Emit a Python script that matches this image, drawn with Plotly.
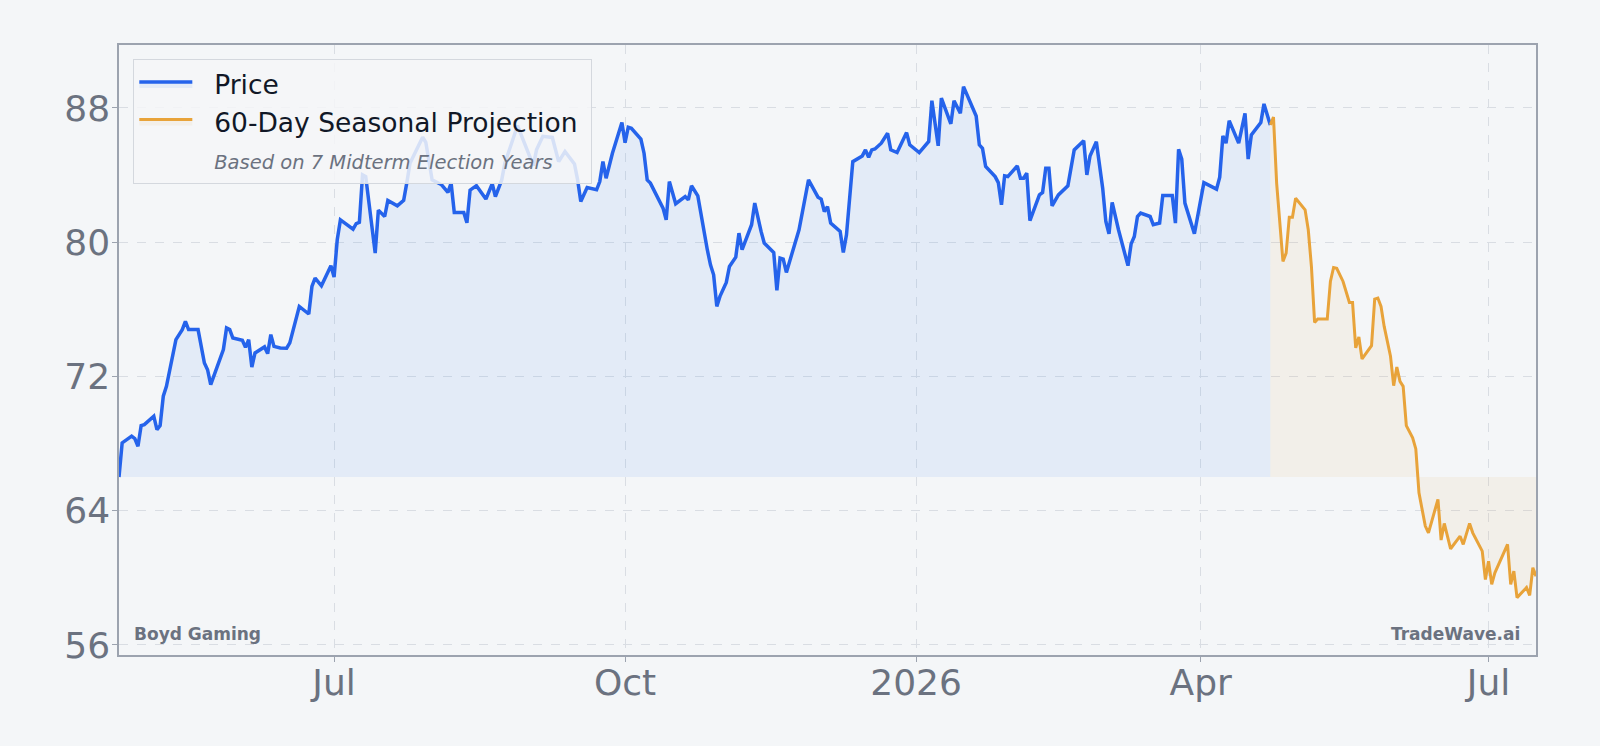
import pandas as pd
import plotly.graph_objects as go

START = "2025-04-24"

# Historical price: (days since START, close)
price_day = [0, 1, 4, 5, 6, 7, 8, 11, 12, 13, 14, 15, 18, 20, 21, 22, 25, 27, 28, 29,
             33, 34, 35, 36, 39, 40, 41, 42, 43, 46, 47, 48, 49, 51, 53, 54, 57, 60, 61, 62,
             64, 67, 68, 69, 70, 74, 75, 76, 77, 78, 81, 82, 84, 85, 88, 90, 91, 92, 96, 97,
             99, 102, 104, 105, 106, 109, 110, 111, 113, 116, 118, 119, 121, 122, 126, 128, 131, 132, 134, 137,
             139, 141, 144, 145, 146, 148, 151, 152, 153, 154, 156, 159, 160, 161, 162, 165, 166, 167, 168, 172,
             173, 174, 176, 179, 180, 181, 183, 186, 187, 188, 189, 190, 192, 193, 195, 196, 197, 200, 201, 203,
             204, 207, 208, 209, 210, 211, 215, 218, 221, 222, 223, 224, 225, 228, 229, 230, 232, 235, 236, 237,
             238, 239, 241, 243, 244, 246, 249, 250, 253, 256, 257, 259, 260, 263, 264, 266, 267, 271, 272, 273,
             274, 277, 278, 279, 280, 281, 284, 285, 286, 287, 288, 291, 292, 293, 294, 295, 297, 300, 302, 305,
             306, 307, 309, 311, 312, 313, 314, 316, 319, 320, 321, 322, 323, 326, 327, 329, 330, 333, 334, 335,
             336, 337, 340, 343, 347, 348, 349, 350, 351, 354, 356, 357, 358, 361, 362, 364]
price = [66.0, 68.04, 68.44, 68.3, 67.84, 69.07, 69.13, 69.63, 68.83, 69.07, 70.82, 71.41, 74.19, 74.79, 75.28, 74.79, 74.79, 72.80, 72.40, 71.51,
         73.60, 74.89, 74.79, 74.29, 74.15, 73.73, 74.19, 72.56, 73.40, 73.76, 73.36, 74.49, 73.79, 73.70, 73.68, 74.00, 76.17, 75.72, 77.36, 77.86,
         77.40, 78.60, 77.92, 80.14, 81.33, 80.78, 81.10, 81.18, 84.01, 83.91, 79.35, 81.91, 81.53, 82.49, 82.17, 82.5, 83.55, 84.7, 86.25, 85.95,
         83.71, 83.42, 82.97, 83.53, 81.77, 81.77, 81.16, 83.10, 83.37, 82.57, 83.48, 82.72, 83.71, 84.71, 86.95, 86.0, 84.56, 85.50, 86.31, 86.24,
         84.8, 85.40, 84.66, 83.71, 82.42, 83.25, 83.12, 83.61, 84.80, 83.81, 85.30, 87.13, 85.93, 86.85, 86.79, 86.14, 85.30, 83.71, 83.52, 82.03,
         81.33, 83.61, 82.29, 82.72, 82.52, 83.36, 82.76, 79.55, 78.65, 78.06, 76.17, 76.77, 77.60, 78.55, 79.11, 80.54, 79.55, 81.04, 82.33, 80.64,
         79.95, 79.39, 77.13, 79.05, 78.99, 78.20, 80.74, 83.71, 82.68, 82.57, 81.83, 82.12, 81.14, 80.64, 79.39, 80.44, 84.80, 85.14, 85.50, 85.06,
         85.50, 85.55, 85.90, 86.49, 85.50, 85.34, 86.53, 85.80, 85.34, 86.0, 88.43, 85.74, 88.58, 87.05, 88.43, 87.68, 89.27, 87.52, 85.80, 85.60,
         84.51, 83.91, 83.55, 82.23, 83.95, 83.91, 84.55, 83.81, 83.81, 84.11, 81.29, 82.82, 82.96, 84.41, 84.41, 82.17, 82.82, 83.36, 85.50, 86.05,
         84.01, 85.14, 85.99, 83.22, 81.23, 80.50, 82.37, 80.74, 78.60, 79.90, 80.34, 81.53, 81.73, 81.53, 81.04, 81.14, 82.78, 82.78, 81.14, 85.54,
         84.95, 82.33, 80.50, 83.55, 83.16, 83.87, 86.33, 85.90, 87.24, 85.90, 87.68, 84.95, 86.39, 87.13, 88.24, 86.99]

# 60-day seasonal projection: (days since START, value)
proj_day = [364, 365, 366, 368, 369, 370, 371, 372, 375, 376, 377, 378, 379, 382, 383, 384, 385, 387, 389, 390,
            391, 392, 393, 396, 397, 398, 399, 400, 402, 403, 404, 405, 406, 407, 409, 410, 411, 413, 414, 417,
            418, 419, 421, 424, 425, 427, 428, 431, 432, 433, 434, 435, 439, 440, 441, 442, 445, 446, 447, 448]
proj = [86.99, 87.45, 83.52, 78.85, 79.35, 81.49, 81.49, 82.62, 81.93, 80.74, 78.55, 75.22, 75.42, 75.42, 77.66, 78.49, 78.44, 77.66, 76.41, 76.41,
        73.70, 74.35, 73.04, 73.83, 76.61, 76.67, 76.17, 74.98, 73.20, 71.45, 72.56, 71.71, 71.41, 69.07, 68.34, 67.68, 65.06, 63.08, 62.68, 64.67,
        62.25, 63.24, 61.73, 62.48, 61.99, 63.24, 62.68, 61.59, 59.90, 60.99, 59.61, 60.30, 61.99, 59.61, 60.40, 58.82, 59.42, 58.95, 60.60, 60.10]

tick_dates = ["2025-07-01", "2025-10-01", "2026-01-01", "2026-04-01", "2026-07-01"]
tick_text = ["Jul", "Oct", "2026", "Apr", "Jul"]
y_ticks = [56, 64, 72, 80, 88]

start = pd.Timestamp(START)
price_dates = start + pd.to_timedelta(price_day, unit="D")
proj_dates = start + pd.to_timedelta(proj_day, unit="D")
base = min(price)

BLUE = "#2563eb"
ORANGE = "#e8a33a"
BG = "#f4f6f8"
GREY = "#6b7280"
FONT = "DejaVu Sans"
GAP = "&nbsp;&nbsp;"

fig = go.Figure()
fig.add_trace(go.Scatter(x=price_dates, y=[base] * len(price_dates), mode="lines",
                         line=dict(width=0, color="rgba(0,0,0,0)"), showlegend=False, hoverinfo="skip"))
fig.add_trace(go.Scatter(x=price_dates, y=price, mode="lines", name=GAP + "Price",
                         line=dict(color=BLUE, width=3.5), fill="tonexty",
                         fillcolor="rgba(59,130,246,0.09)", legendgroup="a"))
fig.add_trace(go.Scatter(x=proj_dates, y=[base] * len(proj_dates), mode="lines",
                         line=dict(width=0, color="rgba(0,0,0,0)"), showlegend=False, hoverinfo="skip"))
fig.add_trace(go.Scatter(x=proj_dates, y=proj, mode="lines", name=GAP + "60-Day Seasonal Projection&nbsp;",
                         line=dict(color=ORANGE, width=3), fill="tonexty",
                         fillcolor="rgba(232,163,58,0.08)", legendgroup="b"))
fig.add_trace(go.Scatter(x=[price_dates[0]], y=[None], mode="lines",
                         name=GAP + '<span style="font-size:19.5px;color:#6b7280"><i>Based on 7 Midterm Election Years</i></span>',
                         line=dict(color="rgba(0,0,0,0)", width=0), legendgroup="c"))

fig.add_annotation(text="<b>Boyd Gaming</b>", xref="paper", yref="paper", x=0.0095, y=0.035,
                   xanchor="left", yanchor="middle", showarrow=False,
                   font=dict(family=FONT, size=17, color=GREY))
fig.add_annotation(text="<b>TradeWave.ai</b>", xref="paper", yref="paper", x=0.99, y=0.035,
                   xanchor="right", yanchor="middle", showarrow=False,
                   font=dict(family=FONT, size=17, color=GREY))

fig.update_layout(
    width=1600, height=746,
    margin=dict(l=119, r=64, t=45, b=91),
    paper_bgcolor=BG, plot_bgcolor=BG,
    font=dict(family=FONT, color=GREY),
    showlegend=True,
    legend=dict(x=0.0101, y=0.9767, xanchor="left", yanchor="top",
                bgcolor="rgba(244,246,248,0.85)", bordercolor="#d4d8de", borderwidth=1,
                font=dict(family=FONT, size=26.5, color="#111827"),
                traceorder="grouped", tracegroupgap=0, itemwidth=53),
    xaxis=dict(range=[price_dates[0], proj_dates[-1]], tickvals=pd.to_datetime(tick_dates), ticktext=tick_text,
               showgrid=True, gridcolor="#d9dde3", griddash="dash", gridwidth=1,
               showline=True, linecolor="#9ca3af", linewidth=1.5, mirror=True,
               ticks="outside", ticklen=5, tickcolor="#9ca3af", ticklabelstandoff=-10,
               tickfont=dict(family=FONT, size=36, color=GREY), zeroline=False),
    yaxis=dict(range=[55.4, 91.75], tickvals=y_ticks,
               showgrid=True, gridcolor="#d9dde3", griddash="dash", gridwidth=1,
               showline=True, linecolor="#9ca3af", linewidth=1.5, mirror=True,
               ticks="outside", ticklen=5, tickcolor="#9ca3af", ticklabelstandoff=-5,
               tickfont=dict(family=FONT, size=36, color=GREY), zeroline=False),
)

fig.write_html("out.html")
